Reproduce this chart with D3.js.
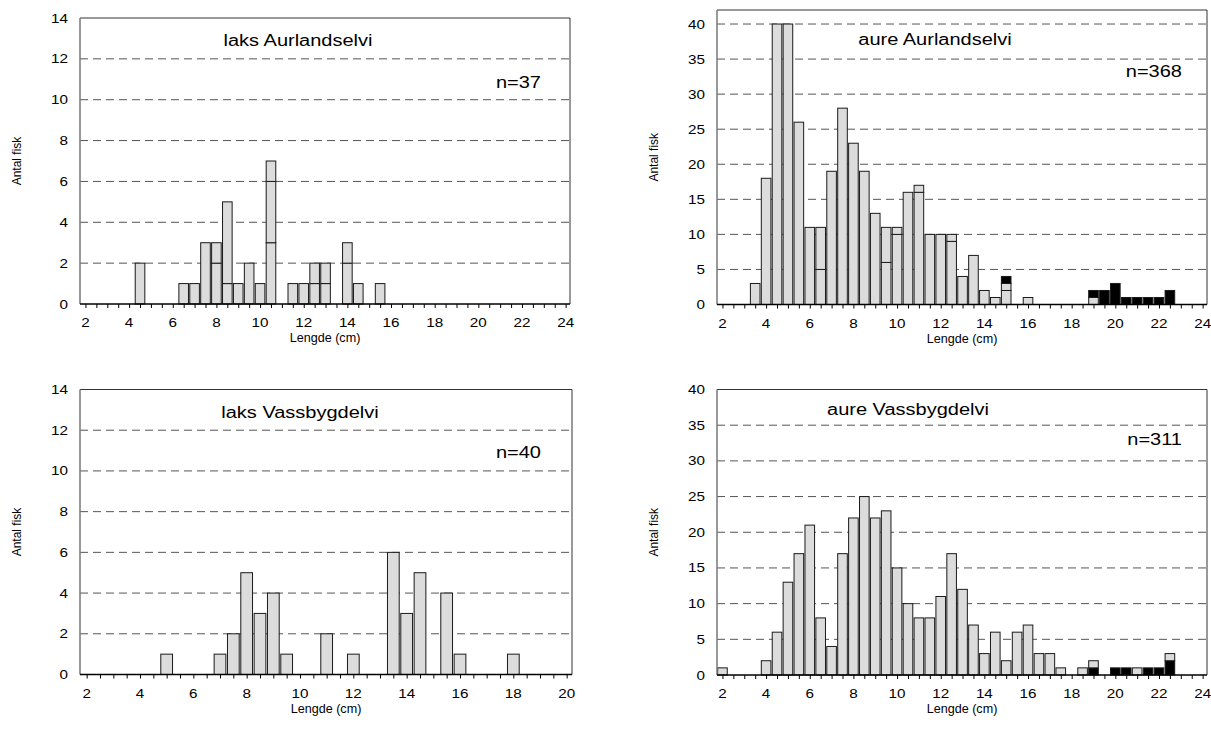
<!DOCTYPE html>
<html>
<head>
<meta charset="utf-8">
<script src="https://cdn.jsdelivr.net/npm/d3@7/dist/d3.min.js"></script>
<style>
  body { margin: 0; background: #fff; }
  svg { font-family: "Liberation Sans", Arial, sans-serif; }
</style>
</head>
<body>
<div id="chart"></div>
<script>
// laks Aurlandselvi
var laksAurLengths = [4.5, 6.5, 7, 7.5, 8, 8.5, 9, 9.5, 10, 10.5, 11.5, 12, 12.5, 13, 14, 14.5, 15.5];
var laksAurA = [2, 1, 1, 3, 2, 1, 1, 2, 1, 3, 1, 1, 1, 1, 2, 1, 1];
var laksAurB = [0, 0, 0, 0, 1, 4, 0, 0, 0, 3, 0, 0, 1, 1, 1, 0, 0];
var laksAurC = [0, 0, 0, 0, 0, 0, 0, 0, 0, 1, 0, 0, 0, 0, 0, 0, 0];

// aure Aurlandselvi
var aureAurLengths = [3.5, 4, 4.5, 5, 5.5, 6, 6.5, 7, 7.5, 8, 8.5, 9, 9.5, 10, 10.5, 11, 11.5,
  12, 12.5, 13, 13.5, 14, 14.5, 15, 16, 19, 19.5, 20, 20.5, 21, 21.5, 22, 22.5];
var aureAurA = [3, 18, 40, 40, 26, 11, 5, 19, 28, 23, 19, 13, 6, 10, 16, 16, 10,
  10, 9, 4, 7, 2, 1, 2, 1, 1, 0, 0, 0, 0, 0, 0, 0];
var aureAurB = [0, 0, 0, 0, 0, 0, 6, 0, 0, 0, 0, 0, 5, 1, 0, 1, 0,
  0, 1, 0, 0, 0, 0, 1, 0, 0, 0, 0, 0, 0, 0, 0, 0];
var aureAurBlack = [0, 0, 0, 0, 0, 0, 0, 0, 0, 0, 0, 0, 0, 0, 0, 0, 0,
  0, 0, 0, 0, 0, 0, 1, 0, 1, 2, 3, 1, 1, 1, 1, 2];

// laks Vassbygdelvi
var laksVasLengths = [5, 7, 7.5, 8, 8.5, 9, 9.5, 11, 12, 13.5, 14, 14.5, 15.5, 16, 18];
var laksVasA = [1, 1, 2, 5, 3, 4, 1, 2, 1, 6, 3, 5, 4, 1, 1];

// aure Vassbygdelvi
var aureVasLengths = [2, 4, 4.5, 5, 5.5, 6, 6.5, 7, 7.5, 8, 8.5, 9, 9.5, 10, 10.5, 11, 11.5, 12, 12.5,
  13, 13.5, 14, 14.5, 15, 15.5, 16, 16.5, 17, 17.5, 18.5, 19, 20, 20.5, 21, 21.5, 22, 22.5];
var aureVasBlack = [0, 0, 0, 0, 0, 0, 0, 0, 0, 0, 0, 0, 0, 0, 0, 0, 0, 0, 0,
  0, 0, 0, 0, 0, 0, 0, 0, 0, 0, 0, 1, 1, 1, 0, 1, 1, 2];
var aureVasA = [1, 2, 6, 13, 17, 21, 8, 4, 17, 22, 25, 22, 23, 15, 10, 8, 8, 11, 17,
  12, 7, 3, 6, 2, 6, 7, 3, 3, 1, 1, 1, 0, 0, 1, 0, 0, 1];

// tick labels
var xLabels24 = [2, 4, 6, 8, 10, 12, 14, 16, 18, 20, 22, 24];
var xLabels20 = [2, 4, 6, 8, 10, 12, 14, 16, 18, 20];
var yLabels14 = [0, 2, 4, 6, 8, 10, 12, 14];
var yLabels40 = [0, 5, 10, 15, 20, 25, 30, 35, 40];

var svg = d3.select('#chart').append('svg')
  .attr('width', 1211)
  .attr('height', 736);

// the source picture is a bit wider than tall, so text is stretched sideways
function wideText(g, str, x, y, size, anchor, sx) {
  return g.append('text')
    .text(str)
    .attr('transform', 'translate(' + x + ',' + y + ')scale(' + sx + ',1)')
    .attr('text-anchor', anchor)
    .style('font-size', size + 'px');
}

function panel(p) {
  var x = d3.scaleLinear().domain([1.75, p.xMax + 0.2]).range([p.left, p.right]);
  var y = d3.scaleLinear().domain([0, p.yMax]).range([p.bottom, p.top]);
  var g = svg.append('g');

  // dashed gridlines
  g.selectAll('line.grid')
    .data(p.yTicks.filter(function(d){ return d > 0 && d < p.yMax; }))
    .enter().append('line')
    .attr('x1', p.left).attr('x2', p.right)
    .attr('y1', function(d){ return y(d); })
    .attr('y2', function(d){ return y(d); })
    .attr('stroke', '#555')
    .attr('stroke-width', 1)
    .attr('stroke-dasharray', '8,5');

  // stacked bars
  var rows = p.lengths.map(function(len, i){
    var r = { len: len };
    p.series.forEach(function(s){ r[s.key] = s.values[i]; });
    return r;
  });
  var stack = d3.stack().keys(p.series.map(function(s){ return s.key; }))(rows);
  var bw = (x(0.5) - x(0)) * 0.88;

  stack.forEach(function(layer, li){
    g.append('g').selectAll('rect')
      .data(layer.filter(function(d){ return d[1] > d[0]; }))
      .enter().append('rect')
      .attr('x', function(d){ return x(d.data.len) - bw / 2; })
      .attr('width', bw)
      .attr('y', function(d){ return y(d[1]); })
      .attr('height', function(d){ return y(d[0]) - y(d[1]); })
      .attr('fill', p.series[li].color)
      .attr('stroke', '#1a1a1a')
      .attr('stroke-width', 1);
  });

  // frame
  g.append('line').attr('x1', p.left).attr('x2', p.right).attr('y1', p.top).attr('y2', p.top)
    .attr('stroke', '#333').attr('stroke-width', 1);
  g.append('line').attr('x1', p.right).attr('x2', p.right).attr('y1', p.top).attr('y2', p.bottom)
    .attr('stroke', '#333').attr('stroke-width', 1);
  g.append('line').attr('x1', p.left).attr('x2', p.left).attr('y1', p.top).attr('y2', p.bottom)
    .attr('stroke', '#777').attr('stroke-width', 1.5);

  // x axis, minor ticks every 0.5 cm
  var xAxis = d3.axisBottom(x)
    .tickValues(d3.range(2, p.xMax + 0.01, 0.5))
    .tickSize(4)
    .tickFormat('');
  var ax = g.append('g').attr('transform', 'translate(0,' + p.bottom + ')').call(xAxis);
  ax.select('.domain').remove();
  ax.selectAll('.tick line').attr('stroke', '#000');
  g.append('line').attr('x1', p.left).attr('x2', p.right).attr('y1', p.bottom).attr('y2', p.bottom)
    .attr('stroke', '#000').attr('stroke-width', 1.5);

  p.xLabels.forEach(function(d){
    wideText(g, d, x(d), p.bottom + 23, 12.5, 'middle', 1.22);
  });
  p.yTicks.forEach(function(d){
    wideText(g, d, p.left - 12, y(d) + 4.5, 12.5, 'end', 1.22);
  });

  // axis titles
  wideText(g, 'Lengde (cm)', (p.left + p.right) / 2, p.bottom + 38, 12, 'middle', 1.05);
  g.append('text')
    .text('Antal fisk')
    .attr('text-anchor', 'middle')
    .attr('transform', 'translate(' + (p.left - 59) + ',' + ((p.top + p.bottom) / 2) + ')rotate(-90)')
    .style('font-size', '12px');

  // title and n
  wideText(g, p.title, p.titleX, p.titleY, 16, 'middle', 1.25);
  wideText(g, p.n, p.nX, p.nY, 16, 'end', 1.25);
}

panel({
  left: 80, right: 570, top: 18, bottom: 304, xMax: 24, yMax: 14,
  xLabels: xLabels24, yTicks: yLabels14,
  lengths: laksAurLengths,
  series: [
    { key: 'a', values: laksAurA, color: '#dcdcdc' },
    { key: 'b', values: laksAurB, color: '#dcdcdc' },
    { key: 'c', values: laksAurC, color: '#dcdcdc' }
  ],
  title: 'laks Aurlandselvi', titleX: 298, titleY: 46,
  n: 'n=37', nX: 541, nY: 88
});

panel({
  left: 717, right: 1207, top: 10, bottom: 304.5, xMax: 24, yMax: 42,
  xLabels: xLabels24, yTicks: yLabels40,
  lengths: aureAurLengths,
  series: [
    { key: 'a', values: aureAurA, color: '#dcdcdc' },
    { key: 'b', values: aureAurB, color: '#dcdcdc' },
    { key: 'k', values: aureAurBlack, color: '#000' }
  ],
  title: 'aure Aurlandselvi', titleX: 935, titleY: 45,
  n: 'n=368', nX: 1182, nY: 77
});

panel({
  left: 80, right: 572, top: 389.5, bottom: 674.5, xMax: 20, yMax: 14,
  xLabels: xLabels20, yTicks: yLabels14,
  lengths: laksVasLengths,
  series: [
    { key: 'a', values: laksVasA, color: '#dcdcdc' }
  ],
  title: 'laks Vassbygdelvi', titleX: 300, titleY: 418,
  n: 'n=40', nX: 541, nY: 458
});

panel({
  left: 717, right: 1207, top: 389.5, bottom: 675, xMax: 24, yMax: 40,
  xLabels: xLabels24, yTicks: yLabels40,
  lengths: aureVasLengths,
  series: [
    { key: 'k', values: aureVasBlack, color: '#000' },
    { key: 'a', values: aureVasA, color: '#dcdcdc' }
  ],
  title: 'aure Vassbygdelvi', titleX: 908, titleY: 415,
  n: 'n=311', nX: 1182, nY: 445
});
</script>
</body>
</html>
